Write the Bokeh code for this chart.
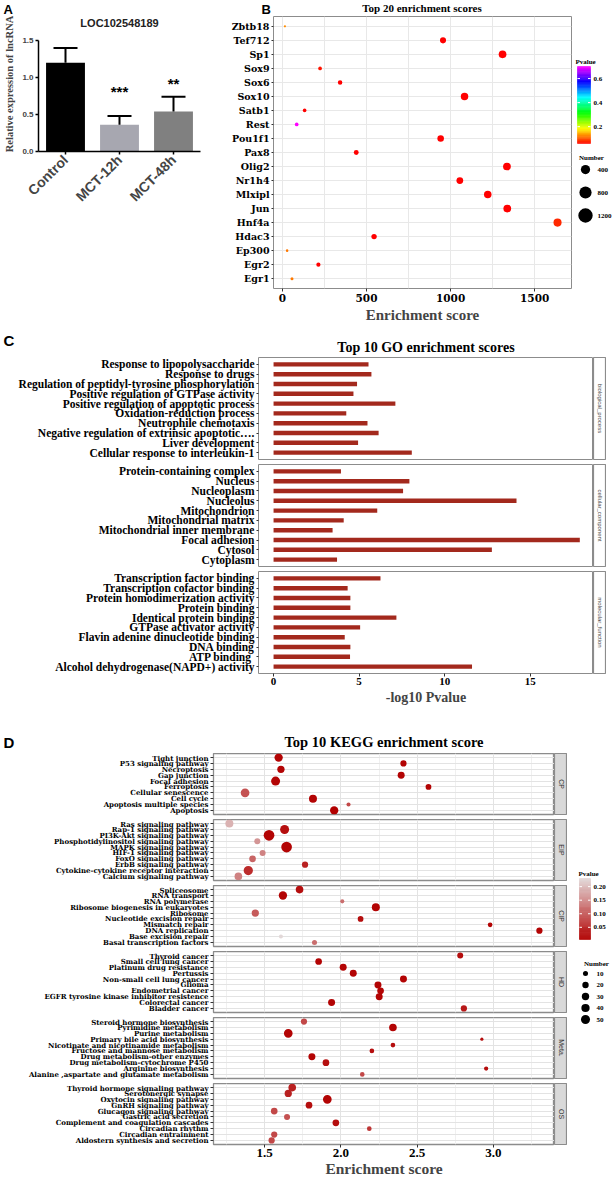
import math
import numpy as np
from bokeh.plotting import figure
from bokeh.models import (FactorRange, Range1d, ColumnDataSource, LinearColorMapper,
                          FixedTicker, PrintfTickFormatter)
from bokeh.layouts import row, column
from bokeh.embed import file_html
from bokeh.resources import INLINE
from bokeh.core.properties import value

SERIF = "Liberation Serif"
WIDE = "DejaVu Serif"
SANS = "Liberation Sans"

# ============================ DATA ============================
# ---- Panel A
a_title = "LOC102548189"
a_groups = ["Control", "MCT-12h", "MCT-48h"]
a_mean = [1.20, 0.36, 0.54]
a_err = [0.20, 0.12, 0.20]
a_star_groups = ["MCT-12h", "MCT-48h"]
a_star_text = ["***", "**"]
a_star_y = [0.81, 0.92]
a_yticks = [0.0, 0.5, 1.0, 1.5]

# ---- Panel B
b_tf = ["Zbtb18", "Tef712", "Sp1", "Sox9", "Sox6", "Sox10", "Satb1", "Rest", "Pou1f1", "Pax8",
        "Olig2", "Nr1h4", "Mlxipl", "Jun", "Hnf4a", "Hdac3", "Ep300", "Egr2", "Egr1"]
b_score = [15, 955, 1309, 224, 343, 1083, 132, 85, 941, 439,
           1335, 1055, 1221, 1337, 1636, 545, 28, 214, 57]
b_pvalue = [0.13, 0.06, 0.06, 0.07, 0.06, 0.06, 0.06, 0.70, 0.06, 0.06,
            0.06, 0.06, 0.06, 0.06, 0.08, 0.06, 0.12, 0.06, 0.12]
b_number = [25, 660, 1180, 170, 305, 1100, 170, 170, 790, 375,
            1180, 860, 1100, 1180, 1310, 480, 50, 245, 90]
b_xticks = [0, 500, 1000, 1500]
b_gridx = [0, 250, 500, 750, 1000, 1250, 1500, 1750]
b_cbar_ticks = [0.2, 0.4, 0.6]
b_size_keys = [400, 800, 1200]

# ---- Panel C
c_bp_terms = ["Response to lipopolysaccharide", "Response to drugs",
              "Regulation of peptidyl-tyrosine phosphorylation", "Positive regulation of GTPase activity",
              "Positive regulation of apoptotic process", "Oxidation-reduction process",
              "Neutrophile chemotaxis", "Negative regulation of extrinsic apoptotic\u2026.",
              "Liver development", "Cellular response to interleukin-1"]
c_bp_vals = [5.55, 5.72, 4.88, 4.67, 7.12, 4.25, 5.49, 6.14, 4.94, 8.08]
c_cc_terms = ["Protein-containing complex", "Nucleus", "Nucleoplasm", "Nucleolus", "Mitochondrion",
              "Mitochondrial matrix", "Mitochondrial inner membrane", "Focal adhesion", "Cytosol", "Cytoplasm"]
c_cc_vals = [3.94, 7.94, 7.57, 14.20, 6.06, 4.10, 3.45, 17.90, 12.76, 3.71]
c_mf_terms = ["Transcription factor binding", "Transcription cofactor binding",
              "Protein homodimerization activity", "Protein binding", "Identical protein binding",
              "GTPase activator activity", "Flavin adenine dinucleotide binding", "DNA binding",
              "ATP  binding", "Alcohol dehydrogenase(NAPD+) activity"]
c_mf_vals = [6.25, 4.33, 4.49, 4.49, 7.18, 5.06, 4.16, 4.49, 4.47, 11.60]
c_strips = ["biological_process", "cellular_component", "molecular_function"]
c_xticks = [0, 5, 10, 15]

# ---- Panel D
d_cp_terms = ["Tight junction", "P53 signaling pathway", "Necroptosis", "Gap junction", "Focal adhesion",
              "Ferroptosis", "Cellular senescence", "Cell cycle", "Apoptosis multiple species", "Apoptosis"]
d_cp_score = [1.592, 2.410, 1.607, 2.395, 1.572, 2.574, 1.372, 1.817, 2.050, 1.956]
d_cp_count = [41, 19, 29, 26, 50, 15, 46, 37, 5, 41]
d_cp_p = [0.01, 0.01, 0.01, 0.01, 0.01, 0.01, 0.09, 0.01, 0.08, 0.005]

d_eip_terms = ["Ras signaling pathway", "Rap-1 signaling pathway", "PI3K-Akt signaling pathway",
               "Phosphotidylinositol signaling pathway", "MAPK signaling pathway", "HIF-1 signaling pathway",
               "FoxO signaling pathway", "ErbB signaling pathway", "Cytokine-cytokine receptor interaction",
               "Calcium signaling pathway"]
d_eip_score = [1.269, 1.631, 1.529, 1.452, 1.644, 1.487, 1.421, 1.765, 1.393, 1.328]
d_eip_count = [37, 50, 76, 17, 76, 17, 23, 19, 54, 33]
d_eip_p = [0.19, 0.02, 0.01, 0.16, 0.01, 0.14, 0.11, 0.04, 0.05, 0.14]

d_cip_terms = ["Spliceosome", "RNA transport", "RNA polymerase", "Ribosome biogenesis in eukaryotes",
               "Ribosome", "Nucleotide excision repair", "Mismatch repair", "DNA replication",
               "Base excision repair", "Basal transcription factors"]
d_cip_score = [1.729, 1.620, 2.009, 2.229, 1.439, 2.129, 2.978, 3.301, 1.607, 1.827]
d_cip_count = [33, 41, 5, 37, 29, 15, 8, 19, 5, 10]
d_cip_p = [0.02, 0.01, 0.12, 0.01, 0.10, 0.02, 0.01, 0.01, 0.23, 0.12]

d_hd_terms = ["Thyroid cancer", "Small cell lung cancer", "Platinum drug resistance", "Pertussis",
              "Non-small cell lung cancer", "Glioma", "Endometrial cancer",
              "EGFR tyrosine kinase inhibitor resistence", "Colorectal cancer", "Bladder cancer"]
d_hd_score = [2.782, 1.854, 2.015, 2.081, 2.410, 2.243, 2.260, 2.251, 1.939, 2.806]
d_hd_count = [17, 23, 26, 26, 26, 26, 23, 26, 26, 19]
d_hd_p = [0.02, 0.01, 0.01, 0.01, 0.01, 0.01, 0.01, 0.01, 0.01, 0.03]

d_meta_terms = ["Steroid hormone biosynthesis", "Pyrimidine metabolism", "Purine metabolism",
                "Primary bile acid biosynthesis", "Nicotinate and nicotinamide metabolism",
                "Fructose and mannose metabolism", "Drug metabolism-other enzymes",
                "Drug metabolism-cytochrome P450", "Arginine biosynthesis",
                "Alanine ,aspartate and glutamate metabolism"]
d_meta_score = [1.758, 2.341, 1.655, 2.924, 2.341, 2.203, 1.810, 1.902, 2.952, 2.140]
d_meta_count = [19, 33, 46, 2, 8, 8, 26, 23, 6, 8]
d_meta_p = [0.08, 0.01, 0.01, 0.02, 0.02, 0.02, 0.01, 0.02, 0.02, 0.08]

d_os_terms = ["Thyroid hormone signaling pathway", "Serotonergic synapse", "Oxytocin signaling pathway",
              "GnRH signaling pathway", "Glucagon signaling pathway", "Gastric acid secretion",
              "Complement and coagulation cascades", "Circadian rhythm", "Circadian entrainment",
              "Aldostern synthesis and secretion"]
d_os_score = [1.681, 1.655, 1.911, 1.791, 1.563, 1.647, 1.967, 2.186, 1.563, 1.546]
d_os_count = [33, 29, 46, 23, 23, 17, 23, 8, 19, 19]
d_os_p = [0.04, 0.04, 0.01, 0.02, 0.08, 0.09, 0.02, 0.06, 0.08, 0.08]

d_strips = ["CP", "EIP", "CIP", "HD", "Meta.", "OS"]
d_xticks = [1.5, 2.0, 2.5, 3.0]
d_xminor = [1.25, 1.75, 2.25, 2.75, 3.25]
d_cbar_ticks = [0.05, 0.10, 0.15, 0.20]
d_size_keys = [10, 20, 30, 40, 50]

# ============================ STYLE HELPERS ============================
A_COLORS = ["#000000", "#a7a7b0", "#808080"]
BAR_RED = "#a3291d"
B_ANCHORS = ["#ff0000", "#ffff00", "#00ff00", "#00ffff", "#0000ff", "#ff00ff"]
D_ANCHORS = ["#b20000", "#e2d8d8"]
FRAME = "#8c8c8c"


def palette_from(anchors, n=256):
    rgb = np.array([[int(c[i:i + 2], 16) for i in (1, 3, 5)] for c in anchors], dtype=float)
    pos = np.linspace(0.0, 1.0, len(anchors))
    t = np.linspace(0.0, 1.0, n)
    ch = [np.interp(t, pos, rgb[:, k]) for k in range(3)]
    return ["#%02x%02x%02x" % (int(round(r)), int(round(g)), int(round(b))) for r, g, b in zip(*ch)]


def b_size(n):
    return 1.2 + 0.19 * math.sqrt(n)


def d_size(n):
    return 1.8 + 1.02 * math.sqrt(n)


def base_fig(**kw):
    p = figure(output_backend="svg", toolbar_location=None, **kw)
    p.background_fill_color = "white"
    p.border_fill_color = "white"
    return p


def blank_fig(w, h):
    """A figure without axes whose data units are its own pixels (y downward)."""
    p = base_fig(width=w, height=h, x_range=Range1d(0, w), y_range=Range1d(h, 0),
                 x_axis_location=None, y_axis_location=None, min_border=0)
    p.grid.visible = False
    p.outline_line_color = None
    return p


def put_text(p, xs, ys, texts, font, size, align="left", baseline="middle", color="black", bold=True):
    p.text(x=xs, y=ys, text=texts, text_align=align, text_baseline=baseline,
           text_font=value(font), text_font_size=size,
           text_font_style="bold" if bold else "normal", text_color=color)


def style_axis(ax, font, size, tick_out=3, standoff=2):
    ax.axis_line_color = None
    ax.major_tick_line_color = "#333333"
    ax.major_tick_out = tick_out
    ax.major_tick_in = 0
    ax.minor_tick_line_color = None
    ax.major_label_text_font = font
    ax.major_label_text_font_size = size
    ax.major_label_text_font_style = "bold"
    ax.major_label_text_color = "black"
    ax.major_label_standoff = standoff


def strip_fig(label, height, mb_bottom, fill, tcolor, fsize):
    s = base_fig(width=13, height=height, x_range=Range1d(0, 1), y_range=Range1d(0, 1),
                 x_axis_location=None, y_axis_location=None,
                 min_border_left=0, min_border_right=0, min_border_top=0, min_border_bottom=mb_bottom)
    s.grid.visible = False
    s.background_fill_color = fill
    s.outline_line_color = FRAME
    s.outline_line_width = 1.2
    s.text(x=[0.5], y=[0.5], text=[label], angle=-math.pi / 2, text_align="center",
           text_baseline="middle", text_font=value(SANS), text_font_size=fsize, text_color=tcolor)
    return s


def draw_colorbar(p, palette, low, high, x0, x1, y_top, y_bot, ticks, fmt, label_x):
    n = 64
    edges = np.linspace(low, high, n + 1)

    def to_y(v):
        return y_bot - (v - low) / (high - low) * (y_bot - y_top)

    mids = 0.5 * (edges[:-1] + edges[1:])
    cols = [palette[int(round((m - low) / (high - low) * (len(palette) - 1)))] for m in mids]
    p.quad(left=x0, right=x1, bottom=[to_y(e) for e in edges[:-1]], top=[to_y(e) for e in edges[1:]],
           fill_color=cols, line_color=cols, line_width=0.6)
    ty = [to_y(t) for t in ticks]
    k = len(ticks)
    p.segment(x0=[x0] * k, y0=ty, x1=[x0 + 2.5] * k, y1=ty, line_color="white", line_width=1)
    p.segment(x0=[x1 - 2.5] * k, y0=ty, x1=[x1] * k, y1=ty, line_color="white", line_width=1)
    put_text(p, [label_x] * k, ty, [fmt % t for t in ticks], SERIF, "7px")


# ============================ TOP HEADER (page y 0..16) ============================
hdr_top = blank_fig(612, 16)
put_text(hdr_top, [3, 261], [8.5, 8.5], ["A", "B"], SANS, "13px")
put_text(hdr_top, [421.5], [7], ["Top 20 enrichment scores"], SERIF, "11px", align="center")

# ============================ PANEL A (page x 0..228, y 16..328) ============================
# frame spans page y 16..151; the axis itself is bounded to 0..1.5 (page y 151..40)
A_YTOP = a_yticks[-1] + 24.0 / 74.0
pa = base_fig(width=228, height=312, x_range=FactorRange(*a_groups), y_range=Range1d(0, A_YTOP),
              min_border_left=38, min_border_right=28, min_border_top=0, min_border_bottom=177)
pa.outline_line_color = None
pa.grid.visible = False
pa.vbar(x=a_groups, top=a_mean, width=0.72, fill_color=A_COLORS, line_color=None)
a_top = [m + e for m, e in zip(a_mean, a_err)]
pa.segment(x0=a_groups, y0=a_mean, x1=a_groups, y1=a_top, line_color="black", line_width=2)
pa.scatter(x=a_groups, y=a_top, marker="dash", size=24, line_color="black", line_width=2)
pa.text(x=a_star_groups, y=a_star_y, text=a_star_text, text_align="center", text_baseline="middle",
        text_font=value(SANS), text_font_style="bold", text_font_size="15px", text_color="black")
pa.text(x=[a_groups[1]], y=[a_yticks[-1] + 18.0 / 74.0], text=[a_title], text_align="center",
        text_baseline="middle", text_font=value(SANS), text_font_style="bold", text_font_size="11px",
        text_color="#222222")
ya = pa.yaxis[0]
ya.ticker = FixedTicker(ticks=a_yticks)
ya.bounds = (a_yticks[0], a_yticks[-1])
ya.formatter = PrintfTickFormatter(format="%.1f")
ya.axis_label = "Relative expression of lncRNA"
ya.axis_label_text_font = SERIF
ya.axis_label_text_font_size = "10.5px"
ya.axis_label_text_font_style = "bold"
ya.axis_label_standoff = 4
ya.axis_line_width = 1.5
ya.major_tick_line_width = 1.5
ya.major_tick_out = 3
ya.major_tick_in = 0
ya.minor_tick_line_color = None
ya.major_label_text_font = SANS
ya.major_label_text_font_size = "8px"
ya.major_label_text_font_style = "bold"
ya.major_label_standoff = 2
xa = pa.xaxis[0]
xa.axis_line_width = 1.5
xa.major_tick_line_width = 1.5
xa.major_tick_out = 3
xa.major_tick_in = 0
xa.major_label_orientation = math.pi / 4
xa.major_label_text_font = SANS
xa.major_label_text_font_size = "14px"
xa.major_label_text_font_style = "bold"
xa.major_label_standoff = 3

# ============================ PANEL B (page x 228..572, y 16..328) ============================
b_palette = palette_from(B_ANCHORS)
b_low, b_high = min(b_pvalue), max(b_pvalue)
b_mapper = LinearColorMapper(palette=b_palette, low=b_low, high=b_high)
pb = base_fig(width=344, height=312, x_range=Range1d(-53, 1719),
              y_range=FactorRange(*b_tf[::-1], range_padding=0.2, range_padding_units="absolute"),
              min_border_left=44, min_border_right=1, min_border_top=0, min_border_bottom=40)
pb.outline_line_color = FRAME
pb.xgrid.ticker = FixedTicker(ticks=b_gridx)
pb.xgrid.grid_line_color = "#e8e8e8"
pb.ygrid.grid_line_color = "#e8e8e8"
b_src = ColumnDataSource(dict(tf=b_tf, score=b_score, p=b_pvalue, size=[b_size(n) for n in b_number]))
pb.scatter(x="score", y="tf", size="size", source=b_src,
           fill_color={"field": "p", "transform": b_mapper}, line_color=None)
style_axis(pb.yaxis[0], WIDE, "9.5px", 2, 2)
style_axis(pb.xaxis[0], WIDE, "10.5px", 3, 2)
pb.xaxis[0].ticker = FixedTicker(ticks=b_xticks)
pb.xaxis[0].axis_label = "Enrichment score"
pb.xaxis[0].axis_label_text_font = SERIF
pb.xaxis[0].axis_label_text_font_size = "15px"
pb.xaxis[0].axis_label_text_font_style = "bold"
pb.xaxis[0].axis_label_standoff = 2

# legend for B (own pixel units, y downward; page y = 16 + y)
pbl = blank_fig(40, 312)
put_text(pbl, [3], [49], ["Pvalue"], SERIF, "7px", baseline="bottom")
draw_colorbar(pbl, b_palette, b_low, b_high, 5, 18, 50, 127, b_cbar_ticks, "%.1f", 21)
put_text(pbl, [19], [141], ["Number"], SERIF, "7px", align="center")
b_key_y = [153 + 23 * i for i in range(len(b_size_keys))]
pbl.scatter(x=[13] * len(b_size_keys), y=b_key_y, size=[1.85 * b_size(n) for n in b_size_keys],
            fill_color="black", line_color=None)
put_text(pbl, [25] * len(b_size_keys), b_key_y, [str(n) for n in b_size_keys], SERIF, "7px")

top_block = column(hdr_top, row(column(pa), column(pb), column(pbl)))

# ============================ PANEL C (page y 328..707) ============================
hdr_c = blank_fig(606, 29)
put_text(hdr_c, [3], [12], ["C"], SANS, "15px")
put_text(hdr_c, [425.5], [19], ["Top 10 GO enrichment scores"], SERIF, "14px", align="center")

c_xr = Range1d(-0.88, 18.7)
c_specs = [(c_bp_terms, c_bp_vals, c_strips[0], 5, False),
           (c_cc_terms, c_cc_vals, c_strips[1], 5, False),
           (c_mf_terms, c_mf_vals, c_strips[2], 34, True)]
c_rows = [hdr_c]
for i, (terms, vals, sname, mbb, show_x) in enumerate(c_specs):
    h = 102 + mbb
    kw = dict(width=593, height=h, x_range=c_xr,
              y_range=FactorRange(*terms[::-1], range_padding=0.2, range_padding_units="absolute"),
              min_border_left=258, min_border_right=0, min_border_top=0, min_border_bottom=mbb)
    if not show_x:
        kw["x_axis_location"] = None
    p = base_fig(**kw)
    p.grid.visible = False
    p.outline_line_color = FRAME
    p.hbar(y=terms, right=vals, left=0, height=0.45, fill_color=BAR_RED, line_color=None)
    style_axis(p.yaxis[0], SERIF, "11.5px", 2, 2)
    if show_x:
        ax = p.xaxis[0]
        style_axis(ax, SERIF, "11px", 3, 1)
        ax.ticker = FixedTicker(ticks=c_xticks)
        ax.axis_label = "-log10 Pvalue"
        ax.axis_label_text_font = SERIF
        ax.axis_label_text_font_size = "14px"
        ax.axis_label_text_font_style = "bold"
        ax.axis_label_standoff = 2
    s = strip_fig(sname, h, mbb, "white", "#4d4d4d", "6px")
    c_rows.append(row(column(p), column(s)))
c_block = column(*c_rows)

# ============================ PANEL D (page y 707..1180) ============================
d_all_p = d_cp_p + d_eip_p + d_cip_p + d_hd_p + d_meta_p + d_os_p
d_palette = palette_from(D_ANCHORS)
d_low, d_high = min(d_all_p), max(d_all_p)
d_mapper = LinearColorMapper(palette=d_palette, low=d_low, high=d_high)
d_xr = Range1d(1.165, 3.40)
D_FH = 61

hdr_d = blank_fig(567, 46)
put_text(hdr_d, [3], [35], ["D"], SANS, "15px")
put_text(hdr_d, [383.5], [34], ["Top 10 KEGG enrichment score"], SERIF, "14.5px", align="center")

d_specs = [(d_cp_terms, d_cp_score, d_cp_count, d_cp_p),
           (d_eip_terms, d_eip_score, d_eip_count, d_eip_p),
           (d_cip_terms, d_cip_score, d_cip_count, d_cip_p),
           (d_hd_terms, d_hd_score, d_hd_count, d_hd_p),
           (d_meta_terms, d_meta_score, d_meta_count, d_meta_p),
           (d_os_terms, d_os_score, d_os_count, d_os_p)]
d_rows = [hdr_d]
for i, (terms, score, count, pv) in enumerate(d_specs):
    last = i == len(d_specs) - 1
    mbb = 36 if last else 5
    h = D_FH + mbb
    kw = dict(width=554, height=h, x_range=d_xr,
              y_range=FactorRange(*terms[::-1], range_padding=0.2, range_padding_units="absolute"),
              min_border_left=213, min_border_right=0, min_border_top=0, min_border_bottom=mbb)
    if not last:
        kw["x_axis_location"] = None
    p = base_fig(**kw)
    p.outline_line_color = FRAME
    p.outline_line_width = 1.3
    p.xgrid.ticker = FixedTicker(ticks=d_xticks, minor_ticks=d_xminor)
    p.xgrid.grid_line_color = "#e3e3e3"
    p.xgrid.minor_grid_line_color = "#f0f0f0"
    p.ygrid.grid_line_color = "#e3e3e3"
    src = ColumnDataSource(dict(term=terms, score=score, p=pv, size=[d_size(n) for n in count]))
    p.scatter(x="score", y="term", size="size", source=src,
              fill_color={"field": "p", "transform": d_mapper}, line_color=None)
    style_axis(p.yaxis[0], WIDE, "7px", 3, 2)
    if last:
        ax = p.xaxis[0]
        style_axis(ax, SERIF, "13px", 3, 1)
        ax.ticker = FixedTicker(ticks=d_xticks)
        ax.formatter = PrintfTickFormatter(format="%.1f")
        ax.axis_label = "Enrichment score"
        ax.axis_label_text_font = SERIF
        ax.axis_label_text_font_size = "15.5px"
        ax.axis_label_text_font_style = "bold"
        ax.axis_label_standoff = 0
    s = strip_fig(d_strips[i], h, mbb, "#d9d9d9", "#333333", "7px")
    d_rows.append(row(column(p), column(s)))

# legend for D (own pixel units, y downward; page y = 707 + y)
pdl = blank_fig(45, 473)
put_text(pdl, [11], [170], ["Pvalue"], SERIF, "7px", baseline="bottom")
draw_colorbar(pdl, d_palette, d_low, d_high, 12, 23, 171, 232, d_cbar_ticks, "%.2f", 26)
put_text(pdl, [29], [256], ["Number"], SERIF, "7px", align="center")
d_key_y = [266 + 11.5 * i for i in range(len(d_size_keys))]
pdl.scatter(x=[18] * len(d_size_keys), y=d_key_y, size=[d_size(n) for n in d_size_keys],
            fill_color="black", line_color=None)
put_text(pdl, [29] * len(d_size_keys), d_key_y, [str(n) for n in d_size_keys], SERIF, "7px")

d_block = row(column(*d_rows), column(pdl))

page = column(top_block, c_block, d_block)
open("out.html", "w").write(file_html(page, INLINE, title="Enrichment figure"))
